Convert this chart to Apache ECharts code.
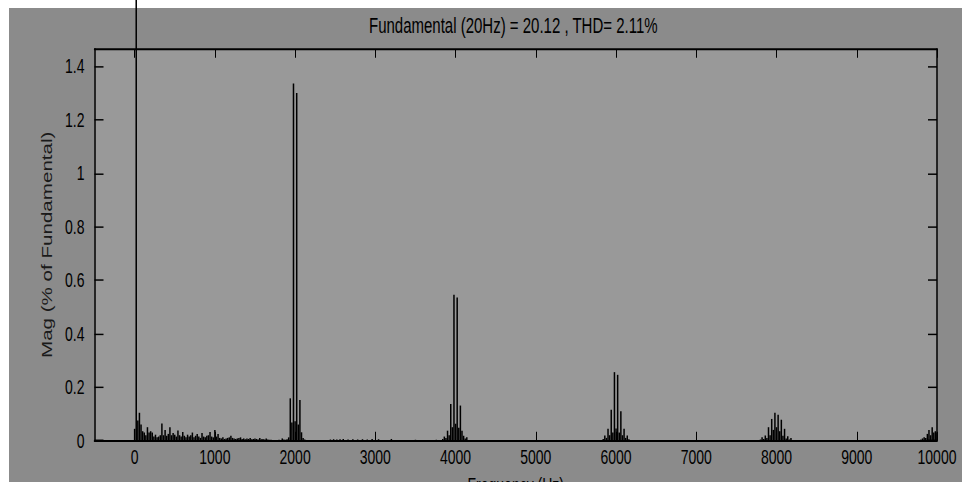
<!DOCTYPE html>
<html>
<head>
<meta charset="utf-8">
<script src="https://cdn.jsdelivr.net/npm/echarts@6/dist/echarts.min.js"></script>
<style>
  html, body { margin: 0; padding: 0; background: #fff; overflow: hidden; width: 962px; height: 486px; }
  #chart { width: 962px; transform-origin: 0 0; }
</style>
</head>
<body>
<div id="chart"></div>
<script>
// FFT spectrum of the inverter output: magnitude of each 20 Hz harmonic, % of fundamental
const titleText = 'Fundamental (20Hz) = 20.12 , THD= 2.11%';
const xName = 'Frequency (Hz)';
const yName = 'Mag (% of Fundamental)';

const fundamentalHz = 20;
const fundamentalMag = 100;

// low-order noise band
const lowBandHz = [0, 40, 60, 80, 100, 120, 140, 160, 180, 200, 220, 240, 260, 280, 300, 320, 340, 360, 380, 400,
  420, 440, 460, 480, 500, 520, 540, 560, 580, 600, 620, 640, 660, 680, 700, 720, 740, 760, 780, 800,
  820, 840, 860, 880, 900, 920, 940, 960, 980, 1000, 1020, 1040, 1060, 1080, 1100, 1120, 1140, 1160, 1180, 1200,
  1220, 1240, 1260, 1280, 1300, 1320, 1340, 1360, 1380, 1400, 1420, 1440, 1460, 1480, 1500, 1520, 1540, 1560, 1580, 1600,
  1620, 1640, 1660, 1680, 1700, 1720, 1760, 1800, 1840, 1860, 1880];
const lowBandMag = [0.044, 0.075, 0.104, 0.060, 0.035, 0.030, 0.020, 0.050, 0.030, 0.035, 0.030, 0.015, 0.022, 0.012, 0.015, 0.020, 0.064, 0.020, 0.040, 0.018,
  0.025, 0.050, 0.020, 0.028, 0.022, 0.015, 0.038, 0.020, 0.015, 0.032, 0.018, 0.012, 0.022, 0.015, 0.020, 0.030, 0.012, 0.018, 0.025, 0.015,
  0.010, 0.028, 0.015, 0.012, 0.018, 0.020, 0.032, 0.015, 0.012, 0.040, 0.015, 0.025, 0.010, 0.008, 0.012, 0.006, 0.008, 0.010, 0.012, 0.018,
  0.010, 0.008, 0.006, 0.008, 0.010, 0.012, 0.006, 0.008, 0.005, 0.008, 0.006, 0.010, 0.005, 0.006, 0.008, 0.006, 0.004, 0.010, 0.005, 0.006,
  0.004, 0.008, 0.004, 0.003, 0.003, 0.002, 0.002, 0.003, 0.008, 0.004, 0.003];

// sidebands around the 2 kHz carrier
const band2kHz = [1900, 1920, 1940, 1960, 1980, 2000, 2020, 2040, 2060, 2080, 2100, 2120];
const band2kMag = [0.005, 0.012, 0.158, 0.068, 1.336, 0.072, 1.300, 0.060, 0.152, 0.031, 0.010, 0.004];

// residual between carrier groups
const midHz = [2440, 2480, 2520, 2560, 2600, 2660, 2720, 2780, 2840, 2900, 2960, 3040, 3200, 3500, 3760];
const midMag = [0.004, 0.005, 0.004, 0.005, 0.006, 0.004, 0.005, 0.004, 0.005, 0.004, 0.006, 0.005, 0.006, 0.003, 0.003];

const band4kHz = [3840, 3860, 3880, 3900, 3920, 3940, 3960, 3980, 4000, 4020, 4040, 4060, 4080, 4100, 4120, 4140];
const band4kMag = [0.006, 0.015, 0.010, 0.037, 0.020, 0.137, 0.050, 0.546, 0.063, 0.535, 0.048, 0.131, 0.037, 0.018, 0.008, 0.012];

const band6kHz = [5840, 5860, 5880, 5900, 5920, 5940, 5960, 5980, 6000, 6020, 6040, 6060, 6080, 6100, 6120, 6140, 6160];
const band6kMag = [0.006, 0.019, 0.010, 0.044, 0.020, 0.115, 0.030, 0.256, 0.045, 0.246, 0.030, 0.110, 0.020, 0.044, 0.010, 0.019, 0.005];

const band8kHz = [7800, 7820, 7840, 7860, 7880, 7900, 7920, 7940, 7960, 7980, 8000, 8020, 8040, 8060, 8080, 8100, 8120, 8140, 8160, 8180];
const band8kMag = [0.004, 0.012, 0.006, 0.019, 0.010, 0.050, 0.020, 0.081, 0.040, 0.104, 0.050, 0.097, 0.035, 0.078, 0.018, 0.044, 0.008, 0.016, 0.004, 0.010];

const band10kHz = [9800, 9820, 9840, 9860, 9880, 9900, 9920, 9940, 9960, 9980, 10000];
const band10kMag = [0.004, 0.008, 0.012, 0.010, 0.025, 0.040, 0.020, 0.050, 0.030, 0.035, 0.030];

const freqTicks = [0, 1000, 2000, 3000, 4000, 5000, 6000, 7000, 8000, 9000, 10000];
const magTicks = [0, 0.2, 0.4, 0.6, 0.8, 1, 1.2, 1.4];
const freqRange = [-500, 10000];
const magRange = [0, 1.465];

// The figure is stretched vertically (tall, narrow lettering), so the chart is laid
// out in a shorter box and scaled up in y.
const STRETCH = 1.47;
const W = 962, H = 486;
const el = document.getElementById('chart');
el.style.height = (H / STRETCH) + 'px';
el.style.transform = 'scale(1,' + STRETCH + ')';
const sy = v => v / STRETCH;

const bands = [
  [lowBandHz, lowBandMag], [band2kHz, band2kMag], [midHz, midMag], [band4kHz, band4kMag],
  [band6kHz, band6kMag], [band8kHz, band8kMag], [band10kHz, band10kMag]
];
const barData = [];
bands.forEach(([hz, mag]) => hz.forEach((f, i) => barData.push([f, mag[i]])));
barData.push({ value: [fundamentalHz, fundamentalMag], itemStyle: { borderColor: '#000', borderWidth: 1 } });
barData.sort((a, b) => (a.value || a)[0] - (b.value || b)[0]);

const FONT = "'Liberation Sans', Arial, sans-serif";
const txt = { color: '#000', fontFamily: FONT, fontSize: 14, fontWeight: 'normal' };
const plainNumber = v => String(v);

const plot = { left: 94.5, right: W - 937, top: sy(49), bottom: sy(H - 440) };

const chart = echarts.init(el, null, { renderer: 'svg' });
chart.setOption({
  animation: false,
  backgroundColor: '#fff',
  title: {
    text: titleText,
    left: 369,
    top: sy(14),
    padding: 0,
    textStyle: { color: '#000', fontFamily: FONT, fontSize: 15, fontWeight: 'normal' }
  },
  graphic: [
    { type: 'rect', z: -10, silent: true, shape: { x: 9, y: sy(8), width: W - 9, height: sy(482 - 8) }, style: { fill: '#8b8b8b' } },
    { type: 'rect', z: 100, silent: true, shape: { x: 0, y: sy(482), width: W, height: sy(10) }, style: { fill: '#fff' } }
  ],
  grid: Object.assign({ show: true, backgroundColor: '#999999', borderWidth: 0, containLabel: false, outerBoundsMode: 'none' }, plot),
  xAxis: [{
    type: 'value', min: freqRange[0], max: freqRange[1],
    name: xName, nameLocation: 'middle', nameGap: 18.5, nameTextStyle: txt,
    axisLine: { onZero: false, lineStyle: { color: '#000', width: 1.5 } },
    axisTick: { inside: true, length: 6, customValues: freqTicks, lineStyle: { color: '#000', width: 1 } },
    axisLabel: Object.assign({ customValues: freqTicks, margin: 4, formatter: plainNumber }, txt),
    splitLine: { show: false }
  }, {
    type: 'value', position: 'top', min: freqRange[0], max: freqRange[1],
    axisLine: { onZero: false, lineStyle: { color: '#000', width: 1.2 } },
    axisTick: { inside: true, length: 6, customValues: freqTicks, lineStyle: { color: '#000', width: 1 } },
    axisLabel: { show: false },
    splitLine: { show: false }
  }],
  yAxis: [{
    type: 'value', min: magRange[0], max: magRange[1],
    name: yName, nameLocation: 'middle', nameGap: 30, nameTextStyle: Object.assign({}, txt, { color: '#1a1a1a' }),
    axisLine: { onZero: false, lineStyle: { color: '#000', width: 1.5 } },
    axisTick: { inside: true, length: 9, customValues: magTicks, lineStyle: { color: '#000', width: 1 } },
    axisLabel: Object.assign({ customValues: magTicks, margin: 10, formatter: plainNumber }, txt),
    splitLine: { show: false }
  }, {
    type: 'value', position: 'right', min: magRange[0], max: magRange[1],
    axisLine: { onZero: false, lineStyle: { color: '#000', width: 1.5 } },
    axisTick: { inside: true, length: 9, customValues: magTicks, lineStyle: { color: '#000', width: 1 } },
    axisLabel: { show: false },
    splitLine: { show: false }
  }],
  series: [{
    type: 'bar',
    xAxisIndex: 0, yAxisIndex: 0,
    barWidth: 1.5,
    clip: false,
    silent: true,
    itemStyle: { color: '#000' },
    data: barData
  }]
});
</script>
</body>
</html>
